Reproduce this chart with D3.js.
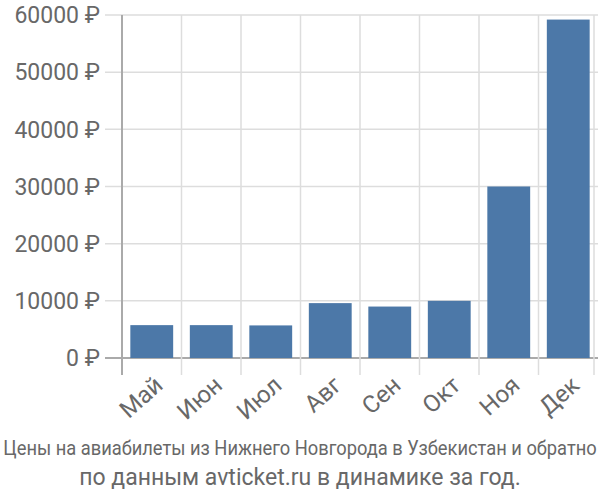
<!DOCTYPE html>
<html>
<head>
<meta charset="utf-8">
<script src="https://cdn.jsdelivr.net/npm/d3@7"></script>
<style>
  body { margin: 0; background: #fff; }
  text { font-family: Roboto, "Liberation Sans", sans-serif; fill: #686868; }
</style>
</head>
<body>
<div id="chart"></div>
<script>
// data
const months = ["Май", "Июн", "Июл", "Авг", "Сен", "Окт", "Ноя", "Дек"];
const prices = [5750, 5750, 5700, 9600, 9000, 10000, 30000, 59200];
const yTicks = [0, 10000, 20000, 30000, 40000, 50000, 60000];
const titleLines = [
  "Цены на авиабилеты из Нижнего Новгорода в Узбекистан и обратно",
  "по данным avticket.ru в динамике за год."
];

const width = 600, height = 500;
const mLeft = 122, mRight = 598, mTop = 15, mBottom = 358;

const svg = d3.select("#chart")
  .append("svg")
  .attr("width", width)
  .attr("height", height);

const x = d3.scaleBand()
  .domain(months)
  .range([mLeft, mRight])
  .padding(0);

const y = d3.scaleLinear()
  .domain([0, 60000])
  .range([mBottom, mTop]);

// horizontal grid
svg.append("g")
  .selectAll("line")
  .data(yTicks)
  .enter()
  .append("line")
  .attr("x1", mLeft - 17)
  .attr("x2", mRight)
  .attr("y1", d => y(d))
  .attr("y2", d => y(d))
  .attr("stroke", d => d === 0 ? "#aaa" : "#ddd")
  .attr("stroke-width", d => d === 0 ? 2 : 1.5);

// vertical grid at band edges
const edges = months.map(m => x(m)).concat([mRight - 4]);
svg.append("g")
  .selectAll("line")
  .data(edges)
  .enter()
  .append("line")
  .attr("x1", d => d)
  .attr("x2", d => d)
  .attr("y1", mTop)
  .attr("y2", mBottom + 17)
  .attr("stroke", (d, i) => i === 0 ? "#aaa" : "#ddd")
  .attr("stroke-width", (d, i) => i === 0 ? 2 : 1.5);

// bars
const inset = x.bandwidth() * 0.14;
svg.append("g")
  .selectAll("rect")
  .data(prices)
  .enter()
  .append("rect")
  .attr("x", (d, i) => x(months[i]) + inset)
  .attr("y", d => y(d))
  .attr("width", x.bandwidth() - 2 * inset)
  .attr("height", d => y(0) - y(d))
  .attr("fill", "#4c78a8");

// y labels
svg.append("g")
  .selectAll("text")
  .data(yTicks)
  .enter()
  .append("text")
  .attr("x", mLeft - 22)
  .attr("y", d => y(d))
  .attr("dy", "0.36em")
  .attr("text-anchor", "end")
  .style("font-size", "23px")
  .text(d => d + " ₽");

// x labels, rotated
svg.append("g")
  .selectAll("text")
  .data(months)
  .enter()
  .append("text")
  .attr("transform", d => `translate(${x(d) + x.bandwidth() / 2 + 7},${mBottom + 23}) rotate(-42)`)
  .attr("text-anchor", "end")
  .attr("dy", "0.35em")
  .style("font-size", "24px")
  .text(d => d);

// title: first line squeezed horizontally to fit the width
const t1 = svg.append("text")
  .attr("x", 0)
  .attr("y", 0)
  .attr("text-anchor", "middle")
  .style("font-size", "21px")
  .text(titleLines[0]);
const natural = t1.node().getComputedTextLength();
const sx = Math.min(1, 594 / natural);
t1.attr("transform", `translate(300,455) scale(${sx},1)`);

svg.append("text")
  .attr("x", 300)
  .attr("y", 485)
  .attr("text-anchor", "middle")
  .style("font-size", "23px")
  .text(titleLines[1]);
</script>
</body>
</html>
